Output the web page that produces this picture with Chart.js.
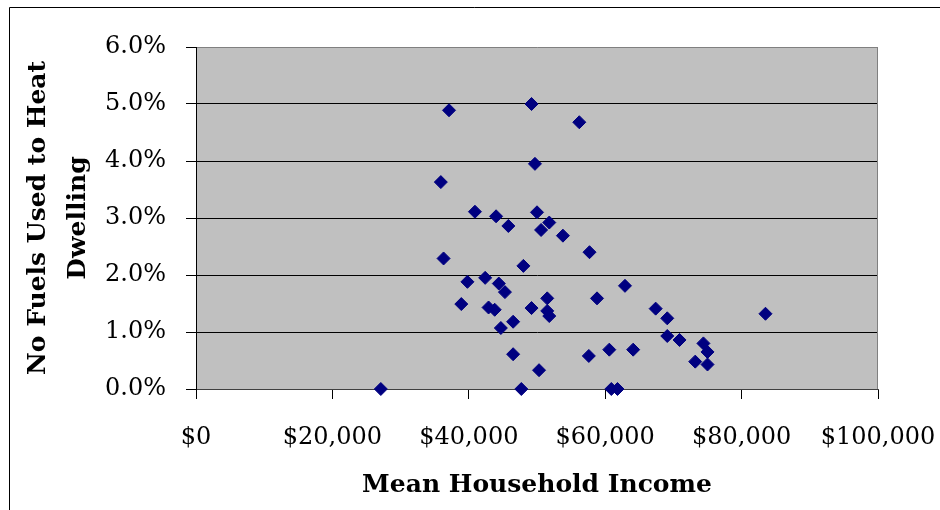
<!DOCTYPE html>
<html>
<head>
<meta charset="utf-8">
<script src="https://cdn.jsdelivr.net/npm/chart.js@4"></script>
<style>
  html, body { margin: 0; padding: 0; background: #fff; }
  #wrap { width: 940px; height: 510px; }
</style>
</head>
<body>
<div id="wrap"><canvas id="scatterChart" width="940" height="510"></canvas></div>
<script>
// Mean household income ($) per area
const incomes = [
  27100, 37100, 35900, 36300, 40900, 39800, 38900, 42400, 44000, 45800,
  49200, 56200, 49700, 50000, 51800, 50600, 53800, 44400, 45300, 42900,
  43800, 48000, 57700, 51500, 49200, 51500, 51800, 46500, 44700, 58800,
  62900, 46500, 50300, 47700, 57600, 60600, 64100, 60900, 61800, 67400,
  69100, 69100, 70900, 74400, 75000, 73200, 75000, 83500
];
// Share of dwellings with no heating fuel (%)
const noFuelShare = [
  0.00, 4.89, 3.63, 2.29, 3.11, 1.88, 1.49, 1.95, 3.03, 2.86,
  5.00, 4.68, 3.95, 3.10, 2.92, 2.79, 2.69, 1.85, 1.70, 1.43,
  1.39, 2.16, 2.40, 1.59, 1.42, 1.37, 1.28, 1.18, 1.07, 1.59,
  1.81, 0.61, 0.33, 0.00, 0.58, 0.69, 0.69, 0.00, 0.00, 1.41,
  1.24, 0.93, 0.86, 0.80, 0.65, 0.48, 0.43, 1.32
];
const xTicks = [0, 20000, 40000, 60000, 80000, 100000];
const yTicks = [0, 1, 2, 3, 4, 5, 6];

const serif = "'DejaVu Serif', serif";

// gray plot background, plot border and outer frame
const plotFrame = {
  id: 'plotFrame',
  beforeDraw(chart) {
    const { ctx, chartArea: a } = chart;
    ctx.save();
    ctx.fillStyle = '#c0c0c0';
    ctx.fillRect(a.left, a.top, a.right - a.left, a.bottom - a.top);
    ctx.strokeStyle = '#000';
    ctx.lineWidth = 1;
    ctx.beginPath();
    ctx.moveTo(9.5, 510);
    ctx.lineTo(9.5, 7.5);
    ctx.lineTo(940, 7.5);
    ctx.stroke();
    ctx.restore();
  },
  beforeDatasetsDraw(chart) {
    const { ctx, chartArea: a } = chart;
    ctx.save();
    ctx.strokeStyle = '#808080';
    ctx.lineWidth = 1;
    ctx.beginPath();
    ctx.moveTo(a.right - 0.5, a.top);
    ctx.lineTo(a.right - 0.5, a.bottom);
    ctx.stroke();
    ctx.restore();
  }
};

const ctx = document.getElementById('scatterChart').getContext('2d');
new Chart(ctx, {
  type: 'scatter',
  data: {
    datasets: [{
      label: 'No Fuels',
      data: incomes.map((x, i) => ({ x: x, y: noFuelShare[i] })),
      pointStyle: 'rectRot',
      pointRadius: 6.5,
      pointHoverRadius: 6.5,
      backgroundColor: '#000080',
      borderColor: '#000080',
      borderWidth: 1,
      clip: false
    }]
  },
  options: {
    responsive: false,
    animation: false,
    layout: { padding: { left: 10, top: 47, right: 62, bottom: 0 } },
    plugins: {
      legend: { display: false },
      tooltip: { enabled: false }
    },
    scales: {
      x: {
        type: 'linear',
        min: 0,
        max: 100000,
        afterBuildTicks: s => { s.ticks = xTicks.map(v => ({ value: v })); },
        afterFit: s => { s.height = 121; s.paddingLeft = 0; s.paddingRight = 0; },
        grid: { drawOnChartArea: false, tickColor: '#000', tickLength: 10 },
        border: { color: '#404040', width: 1 },
        ticks: {
          padding: 24,
          color: '#000',
          maxRotation: 0,
          font: { family: serif, size: 24 },
          callback: v => '$' + v.toLocaleString('en-US')
        },
        title: {
          display: true,
          text: 'Mean Household Income',
          color: '#000',
          font: { family: serif, size: 25, weight: 'bold' },
          padding: { top: 0, bottom: 10 }
        }
      },
      y: {
        type: 'linear',
        min: 0,
        max: 6,
        afterBuildTicks: s => { s.ticks = yTicks.map(v => ({ value: v })); },
        afterFit: s => { s.width = 186; s.paddingTop = 0; s.paddingBottom = 0; },
        grid: {
          color: c => (c.tick && c.tick.value === 6) ? '#808080' : '#000',
          tickColor: '#000',
          tickLength: 10
        },
        border: { color: '#000', width: 1 },
        ticks: {
          padding: 20,
          color: '#000',
          font: { family: serif, size: 24 },
          callback: v => v.toFixed(1) + '%'
        },
        title: {
          display: true,
          text: ['No Fuels Used to Heat', 'Dwelling'],
          color: '#000',
          font: { family: serif, size: 25, weight: 'bold', lineHeight: '40px' },
          padding: { top: 8, bottom: 0 }
        }
      }
    }
  },
  plugins: [plotFrame]
});
</script>
</body>
</html>
